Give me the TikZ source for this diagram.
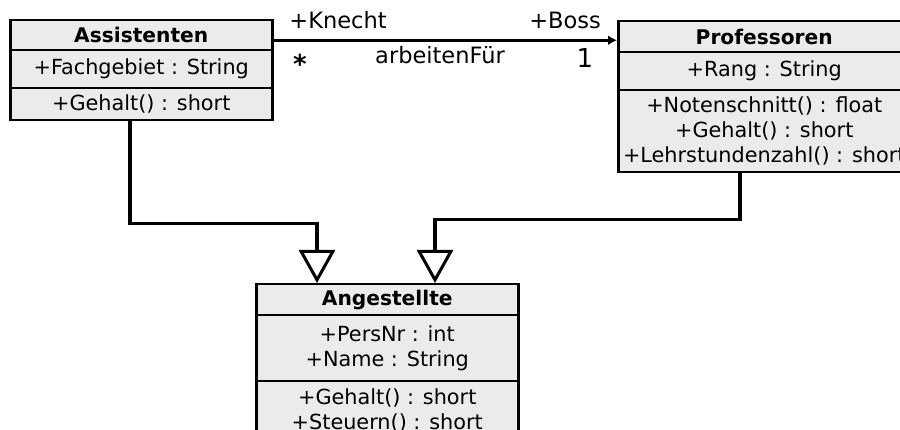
\documentclass[tikz,border=0pt]{standalone}
\usepackage{fontspec}
\setmainfont{DejaVu Sans}
\usetikzlibrary{arrows.meta}
\definecolor{umlgrey}{HTML}{EBEBEB}
\begin{document}
\begin{tikzpicture}[x=1pt,y=-1pt,
  comp/.style={draw=black, fill=umlgrey, line width=2.5pt, inner sep=0pt, align=center,
    anchor=north west, font=\fontsize{20.8}{25}\selectfont},
  ttl/.style={comp, font=\fontsize{20.2}{25}\selectfont\bfseries},
  gen/.style={line width=3.2pt, -{Triangle[open, length=33pt, width=36pt, fill=white, line width=3pt]}},
  assoc/.style={line width=2.8pt, -{Latex[length=9pt, width=10pt]}},
  lbl/.style={inner sep=0pt, font=\fontsize{22.5}{26}\selectfont},
  mult/.style={inner sep=0pt, font=\fontsize{26}{30}\selectfont}
]
\useasboundingbox (0,0) rectangle (900,430);
% Assistenten
\node[ttl, minimum width=262pt, minimum height=30pt] (asT) at (9,19) {Assistenten};
\node[comp, minimum width=262pt, minimum height=38pt] (asA) at (9,49) {+Fachgebiet : String};
\node[comp, minimum width=262pt, minimum height=32pt] (asM) at (9,87) {+Gehalt() : short};
% Professoren
\node[ttl, minimum width=292pt, minimum height=31pt] (prT) at (617,20) {Professoren};
\node[comp, minimum width=292pt, minimum height=38pt] (prA) at (617,51) {+Rang : String};
\node[comp, minimum width=292pt, minimum height=82pt] (prM) at (617,89) {+Notenschnitt() : float\\+Gehalt() : short\\+Lehrstundenzahl() : short};
% Angestellte
\node[ttl, minimum width=262pt, minimum height=31pt] (anT) at (255,283) {Angestellte};
\node[comp, minimum width=262pt, minimum height=66pt] (anA) at (255,314) {+PersNr : int\\+Name : String};
\node[comp, minimum width=262pt, minimum height=58pt] (anM) at (255,380) {+Gehalt() : short\\+Steuern() : short};
% association
\draw[assoc] ([yshift=-5pt]asT.east) -- ([yshift=-5pt]asT.east -| prT.west);
\node[lbl] (kn) at (338,20) {+Knecht};
\node[lbl] (bo) at (565,20) {+Boss};
\node[lbl] (af) at (440,55) {arbeitenFür};
\node[mult, font=\fontsize{26}{30}\selectfont\bfseries] (st) at (300,64) {*};
\node[mult] (on) at (585,58) {1};
% generalizations
\draw[gen] ([xshift=121pt]asM.south west) -- ++(0,102) -| ([xshift=62pt]anT.north west);
\draw[gen] ([xshift=123pt]prM.south west) -- ++(0,46) -| ([xshift=180pt]anT.north west);
\end{tikzpicture}
\end{document}
